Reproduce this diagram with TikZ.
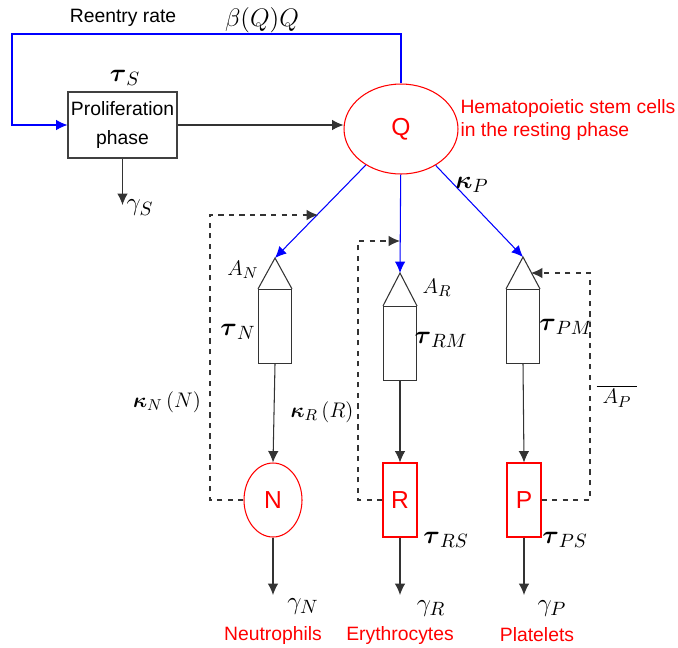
\documentclass[tikz,border=0pt]{standalone}
\usepackage{amsmath,amssymb}
\usepackage{fontspec}
\setmainfont{Liberation Sans}
\usetikzlibrary{shapes,arrows,arrows.meta,positioning,fit}

\begin{document}
\begin{tikzpicture}[
    x=0.02cm, y=-0.02cm, line width=0.6pt,
    phase/.style={rectangle, draw=black!75, minimum width=2.18cm, minimum height=1.32cm, align=center, inner sep=1pt, font=\fontsize{11}{16}\selectfont},
    stem/.style={ellipse, draw=red, text=red, minimum width=2.28cm, minimum height=1.8cm, inner sep=0pt, font=\fontsize{14}{16}\selectfont},
    stage/.style={rectangle, draw=black!80, minimum width=0.66cm, minimum height=1.48cm, inner sep=0pt},
    cellN/.style={ellipse, draw=red, text=red, minimum width=1.16cm, minimum height=1.48cm, inner sep=0pt, font=\fontsize{14}{16}\selectfont},
    pool/.style={rectangle, draw=red, text=red, minimum width=0.68cm, minimum height=1.48cm, inner sep=0pt, font=\fontsize{14}{16}\selectfont},
    lbl/.style={font=\fontsize{11}{13}\selectfont, inner sep=0pt},
    redlbl/.style={lbl, text=red},
    mlbl/.style={font=\fontsize{15}{17}\selectfont, inner sep=0pt},
    slbl/.style={font=\fontsize{12.5}{15}\selectfont, inner sep=0pt},
    tip/.style={-{Latex[length=6.5pt,width=6pt]}},
    edge/.style={tip, black!80},
    flow/.style={tip, blue},
    fb/.style={tip, dashed, black!80}
]
    \useasboundingbox (0,0) rectangle (678,647);

    \node[phase] (prolif) at (122.5,125) {Proliferation\\phase};
    \node[stem] (Q) at (401,129) {Q};
    \node[redlbl, anchor=west, align=left] (hsc) at (460,120) {Hematopoietic stem cells\\in the resting phase};

    \node[stage] (mN) at (275,326.5) {};
    \node[stage] (mR) at (400,343.5) {};
    \node[stage] (mP) at (523,326.5) {};
    \coordinate (aN) at (275,258);
    \coordinate (aR) at (400,273);
    \coordinate (aP) at (523,257);

    \node[cellN] (N) at (273,500) {N};
    \node[pool] (R) at (400,500) {R};
    \node[pool] (P) at (524,500) {P};

    \coordinate (corner) at (12,34);
    \coordinate (gS) at (122.5,205);
    \coordinate (gN) at (273,595);
    \coordinate (gR) at (400,595);
    \coordinate (gP) at (524,595);
    \coordinate (kN) at (210,215);
    \coordinate (hN) at (318,215);
    \coordinate (kR) at (358,241);
    \coordinate (hR) at (400,241);
    \coordinate (kP) at (590,273);
    \coordinate (hP) at (531,273);

    \draw[flow] (Q.north) |- (corner) |- (prolif.west);
    \draw[edge] (prolif.east) -- (prolif.east -| Q.west);
    \draw[edge] (prolif.south) -- (gS);

    \draw[flow] (Q) -- (aN);
    \draw[flow] (Q) -- (aR);
    \draw[flow] (Q) -- (aP);

    \draw[black!80] (mN.north west) -- (aN) -- (mN.north east);
    \draw[black!80] (mR.north west) -- (aR) -- (mR.north east);
    \draw[black!80] (mP.north west) -- (aP) -- (mP.north east);

    \draw[edge] (mN.south) -- (N.north);
    \draw[edge] (mR.south) -- (R.north);
    \draw[edge] (mP.south) -- (P.north);
    \draw[edge] (N.south) -- (gN);
    \draw[edge] (R.south) -- (gR);
    \draw[edge] (P.south) -- (gP);

    \draw[fb] (N.west) -| (kN) -- (hN);
    \draw[fb] (R.west) -| (kR) -- (hR);
    \draw[fb] (P.east) -| (kP) -- (hP);

    \node[lbl] (reentry) at (123,18) {Reentry rate};
    \node[mlbl] (beta) at (262,20) {$\beta(Q)Q$};
    \node[mlbl] (tS) at (125,78) {$\boldsymbol{\tau}_S$};
    \node[mlbl] (gamS) at (140,208) {$\gamma_S$};
    \node[mlbl] (kapP) at (472,185) {$\boldsymbol{\kappa}_P$};
    \node[slbl] (AN) at (243,270) {$A_N$};
    \node[mlbl] (tN) at (238,332) {$\boldsymbol{\tau}_N$};
    \node[slbl] (kapN) at (167,402) {$\boldsymbol{\kappa}_N\,(N)$};
    \node[slbl] (kapR) at (322,412) {$\boldsymbol{\kappa}_R\,(R)$};
    \node[slbl] (AR) at (437,288) {$A_R$};
    \node[mlbl] (tRM) at (441,340) {$\boldsymbol{\tau}_{RM}$};
    \node[mlbl] (tPM) at (566,327) {$\boldsymbol{\tau}_{PM}$};
    \node[slbl] (AP) at (617,396) {$\overline{\;A_P\;}$};
    \node[mlbl] (tRS) at (446,540) {$\boldsymbol{\tau}_{RS}$};
    \node[mlbl] (tPS) at (565,540) {$\boldsymbol{\tau}_{PS}$};
    \node[mlbl] (gamN) at (303,606) {$\gamma_N$};
    \node[mlbl] (gamR) at (431,608) {$\gamma_R$};
    \node[mlbl] (gamP) at (552,608) {$\gamma_P$};

    \node[redlbl] (neut) at (273,635) {Neutrophils};
    \node[redlbl] (eryth) at (400,635) {Erythrocytes};
    \node[redlbl] (plat) at (537,635) {Platelets};
\end{tikzpicture}
\end{document}
